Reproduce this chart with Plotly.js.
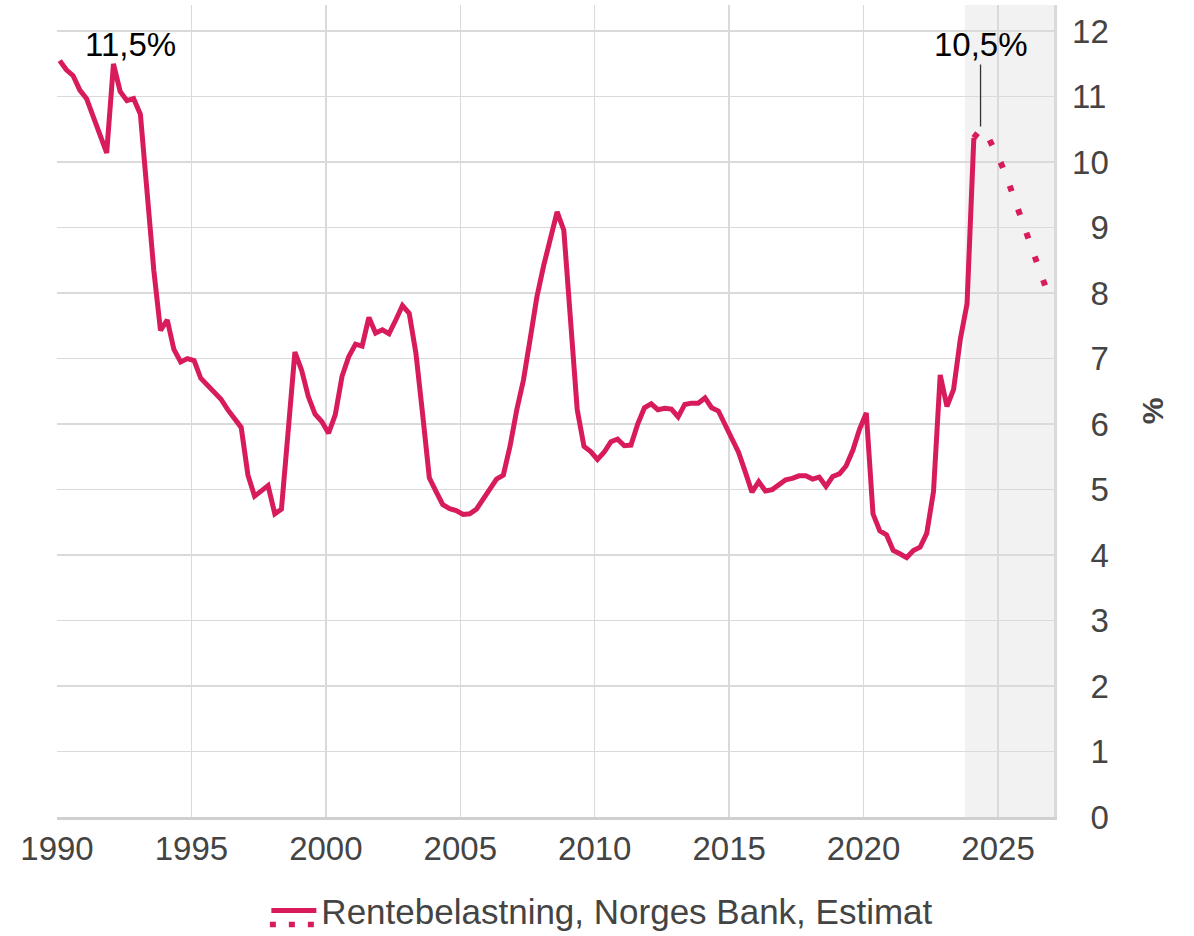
<!DOCTYPE html>
<html>
<head>
<meta charset="utf-8">
<script src="https://cdn.plot.ly/plotly-3.0.1.min.js"></script>
<style>
  html, body { margin: 0; padding: 0; background: #ffffff; }
  #chart { width: 1194px; height: 936px; }
</style>
</head>
<body>
<div id="chart"></div>
<script>
// ---- Data (quarterly, 1990Q1 .. 2024Q1), percent ----
const startYear = 1990;
const seriesName = "Rentebelastning, Norges Bank, Estimat";
const actualValues = [
  11.55, 11.41, 11.32, 11.10,   // 1990
  10.97, 10.70, 10.42, 10.14,   // 1991
  11.50, 11.08, 10.94, 10.97,   // 1992
  10.73,  9.55,  8.35,  7.43,   // 1993
   7.59,  7.14,  6.95,  7.00,   // 1994
   6.97,  6.70,  6.60,  6.48,   // 1995
   6.38,  6.22,  6.09,  5.95,   // 1996
   5.22,  4.90,  4.98,  5.06,   // 1997
   4.63,  4.70,  5.90,  7.10,   // 1998
   6.82,  6.42,  6.15,  6.04,   // 1999
   5.86,  6.14,  6.73,  7.03,   // 2000
   7.22,  7.19,  7.63,  7.39,   // 2001
   7.44,  7.38,  7.59,  7.81,   // 2002
   7.69,  7.09,  6.15,  5.18,   // 2003
   4.97,  4.77,  4.71,  4.68,   // 2004
   4.62,  4.63,  4.70,  4.85,   // 2005
   5.00,  5.16,  5.22,  5.66,   // 2006
   6.22,  6.67,  7.30,  7.94,   // 2007
   8.42,  8.80,  9.24,  8.96,   // 2008
   7.60,  6.22,  5.66,  5.58,   // 2009
   5.46,  5.57,  5.73,  5.77,   // 2010
   5.67,  5.68,  6.00,  6.25,   // 2011
   6.31,  6.22,  6.24,  6.23,   // 2012
   6.11,  6.30,  6.32,  6.32,   // 2013
   6.40,  6.25,  6.20,  6.00,   // 2014
   5.76,  5.57,  5.27,  4.96,   // 2015
   5.12,  4.98,  5.00,  5.07,   // 2016
   5.15,  5.17,  5.21,  5.21,   // 2017
   5.16,  5.19,  5.05,  5.20,   // 2018
   5.24,  5.36,  5.60,  5.92,   // 2019
   6.17,  4.63,  4.37,  4.31,   // 2020
   4.07,  4.02,  3.96,  4.07,   // 2021
   4.12,  4.33,  4.97,  6.75,   // 2022
   6.27,  6.53,  7.30,  7.84,   // 2023
  10.37                         // 2024Q1
];
// Estimate, 2024Q2 .. 2026Q4
const forecastValues = [
  10.50, 10.41, 10.22,          // 2024
   9.99,  9.74,  9.45,  9.14,   // 2025
   8.87,  8.60,  8.30,  8.00    // 2026
];
const yTickVals = [0,1,2,3,4,5,6,7,8,9,10,11,12];
const peakLabel = "11,5%";
const lastLabel = "10,5%";

// ---- helpers ----
const qMonthDay = ["-02-07", "-05-08", "-08-08", "-11-07"];
function quarterDate(idx) {
  const y = startYear + Math.floor(idx / 4);
  return y + qMonthDay[idx % 4];
}
const actualX = actualValues.map((_, i) => quarterDate(i));
const fcStart = actualValues.length - 1;
const forecastX = [actualX[fcStart]].concat(forecastValues.map((_, i) => quarterDate(actualValues.length + i)));
const forecastY = [actualValues[fcStart]].concat(forecastValues);

const red = "#D81B5D";
const font = "Liberation Sans, Arial, Helvetica, sans-serif";
const pad = s => (s.length < 2 ? "\u2007" + s : s);

const traces = [
  {
    x: actualX, y: actualValues, type: "scatter", mode: "lines",
    name: seriesName,
    line: { color: red, width: 5 },
    showlegend: true, hoverinfo: "x+y"
  },
  {
    x: forecastX, y: forecastY, type: "scatter", mode: "lines",
    name: seriesName,
    line: { color: red, width: 6, dash: "6px,19px" },
    showlegend: false, hoverinfo: "x+y"
  }
];

const layout = {
  width: 1194, height: 936,
  margin: { l: 57, r: 140, t: 5, b: 119, autoexpand: false },
  paper_bgcolor: "#ffffff", plot_bgcolor: "#ffffff",
  font: { family: font, color: "#444444", size: 33 },
  showlegend: true,
  legend: {
    orientation: "h", xref: "paper", x: 0.21, xanchor: "left",
    yref: "container", y: 0.027, yanchor: "middle",
    font: { family: font, size: 35, color: "#444444" },
    itemwidth: 45, bgcolor: "rgba(0,0,0,0)"
  },
  xaxis: {
    type: "date",
    range: ["1990-01-01", "2027-01-31"],
    tick0: "1990-01-01", dtick: "M60", tickformat: "%Y",
    showgrid: true, gridcolor: "#dadada", gridwidth: 1.5,
    showline: true, linecolor: "#d0d0d0", linewidth: 3,
    ticks: "outside", ticklen: 0, tickcolor: "rgba(0,0,0,0)",
    tickfont: { family: font, size: 33, color: "#444444" },
    zeroline: false, fixedrange: true
  },
  yaxis: {
    side: "right",
    range: [0, 12.4],
    tickvals: yTickVals,
    ticktext: yTickVals.map(v => pad(String(v))),
    showgrid: true, gridcolor: "#dadada", gridwidth: 1.5,
    showline: true, linecolor: "#dadada", linewidth: 2.5,
    ticks: "outside", ticklen: 9, tickcolor: "rgba(0,0,0,0)",
    tickfont: { family: font, size: 33, color: "#444444" },
    title: { text: "%", standoff: 34, font: { family: font, size: 30, color: "#444444", weight: "bold" } },
    zeroline: false, fixedrange: true
  },
  shapes: [
    {
      type: "rect", layer: "below", xref: "x", yref: "paper",
      x0: "2023-10-08", x1: "2027-01-31", y0: 0, y1: 1,
      fillcolor: "#f2f2f2", line: { width: 0 }
    },
    // dotted row of the legend icon (estimate part)
    {
      type: "line", xref: "paper", yref: "paper",
      x0: 0.2135, x1: 0.2605, y0: -0.1325, y1: -0.1325,
      line: { color: red, width: 5.5, dash: "6px,13px" }
    }
  ],
  annotations: [
    {
      x: "1992-10-01", y: 11.8, xref: "x", yref: "y",
      text: peakLabel, showarrow: false,
      font: { family: font, size: 33, color: "#000000" }
    },
    {
      x: quarterDate(actualValues.length), y: forecastValues[0], xref: "x", yref: "y",
      text: lastLabel, showarrow: true, arrowhead: 0, arrowwidth: 1.3,
      arrowcolor: "#333333", ax: 0, ay: -85, standoff: 3,
      font: { family: font, size: 33, color: "#000000" }
    }
  ]
};

Plotly.newPlot("chart", traces, layout, { displayModeBar: false, staticPlot: true });
</script>
</body>
</html>
